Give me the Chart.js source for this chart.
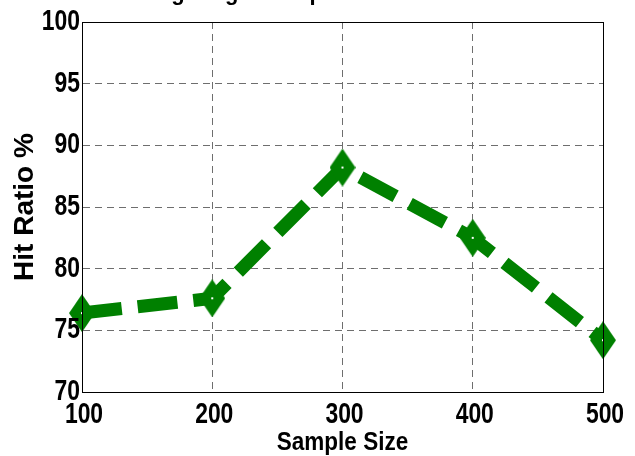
<!DOCTYPE html>
<html>
<head>
<meta charset="utf-8">
<script src="https://cdn.jsdelivr.net/npm/chart.js@4"></script>
<style>
  html, body { margin: 0; padding: 0; background: #fff; }
  #wrap { width: 635px; height: 456px; }
</style>
</head>
<body>
<div id="wrap"><canvas id="hitChart" width="635" height="456"></canvas></div>
<script>
const sampleSizes = [100, 200, 300, 400, 500];
const hitRatio = [76.4, 77.6, 88.2, 82.5, 74.2];
const yTicks = [70, 75, 80, 85, 90, 95, 100];
const xTicks = [100, 200, 300, 400, 500];

const wide = "'Liberation Sans', Arial, sans-serif";

function makeDiamond() {
  const c = document.createElement("canvas");
  c.width = 26;
  c.height = 38;
  const g = c.getContext("2d");
  g.fillStyle = "#008000";
  g.beginPath();
  g.moveTo(13, 0);
  g.lineTo(26, 19);
  g.lineTo(13, 38);
  g.lineTo(0, 19);
  g.closePath();
  g.fill();
  g.fillStyle = "#fff";
  g.fillRect(12, 18, 2, 2);
  return c;
}

// matlab style narrow text: arial squeezed sideways
function narrowText(ctx, text, x, y, size, squeeze, align, baseline) {
  ctx.save();
  ctx.translate(x, y);
  ctx.scale(squeeze, 1);
  ctx.font = "bold " + size + "px " + wide;
  ctx.fillStyle = "#000";
  ctx.textAlign = align;
  ctx.textBaseline = baseline;
  ctx.fillText(text, 0, 0);
  ctx.restore();
}

const frame = {
  id: "frame",
  beforeDraw(chart) {
    // title is cut off by the top of the figure, only the tails show
    const ctx = chart.ctx;
    ctx.save();
    ctx.font = "bold 22px " + wide;
    ctx.fillStyle = "#000";
    const text = "Hit Ratio Using Single Sample";
    const pre = ctx.measureText("Hit Ratio Usin").width;
    const gw = ctx.measureText("g").width;
    ctx.fillText(text, 178 - pre - gw / 2, 0);
    ctx.restore();
  },
  afterDraw(chart) {
    const { ctx, chartArea } = chart;
    const xs = chart.scales.x;
    const ys = chart.scales.y;
    ctx.save();
    ctx.strokeStyle = "#000";
    ctx.lineWidth = 1;
    ctx.strokeRect(chartArea.left + 0.5, chartArea.top + 0.5,
      chartArea.right - chartArea.left, chartArea.bottom - chartArea.top);
    ctx.restore();

    yTicks.forEach(v => {
      narrowText(ctx, String(v), 80, ys.getPixelForValue(v), 29, 0.79, "right", "middle");
    });
    xTicks.forEach(v => {
      narrowText(ctx, String(v), xs.getPixelForValue(v) + 2, 423, 29, 0.79, "center", "alphabetic");
    });
    narrowText(ctx, "Sample Size", (chartArea.left + chartArea.right) / 2, 450, 25, 0.9, "center", "alphabetic");
  }
};

const diamond = makeDiamond();

new Chart(document.getElementById("hitChart"), {
  type: "line",
  data: {
    datasets: [{
      data: sampleSizes.map((s, i) => ({ x: s, y: hitRatio[i] })),
      borderColor: "#008000",
      backgroundColor: "#008000",
      borderWidth: 13,
      borderDash: [40, 16],
      borderCapStyle: "butt",
      borderJoinStyle: "miter",
      tension: 0,
      pointStyle: diamond,
      pointRadius: 13,
      clip: false
    }]
  },
  plugins: [frame],
  options: {
    responsive: false,
    animation: false,
    layout: { padding: { top: 22, right: 32, left: 0, bottom: 0 }, autoPadding: false },
    plugins: { legend: { display: false }, tooltip: { enabled: false } },
    scales: {
      x: {
        type: "linear",
        min: 100,
        max: 500,
        afterBuildTicks: (s) => { s.ticks = xTicks.map(v => ({ value: v })); },
        afterFit: (s) => { s.height = 64; },
        grid: { color: "#6e6e6e", lineWidth: 1, drawTicks: false },
        border: { color: "#000", width: 1, dash: [7, 5] },
        ticks: { display: false }
      },
      y: {
        min: 70,
        max: 100,
        afterBuildTicks: (s) => { s.ticks = yTicks.map(v => ({ value: v })); },
        afterFit: (s) => { s.width = 82; },
        grid: { color: "#6e6e6e", lineWidth: 1, drawTicks: false },
        border: { color: "#000", width: 1, dash: [7, 5] },
        ticks: { display: false },
        title: { display: true, text: "Hit Ratio %", color: "#000", padding: { top: 8, bottom: 0 },
          font: { family: wide, size: 28, weight: "bold", lineHeight: 1.2 } }
      }
    }
  }
});
</script>
</body>
</html>
